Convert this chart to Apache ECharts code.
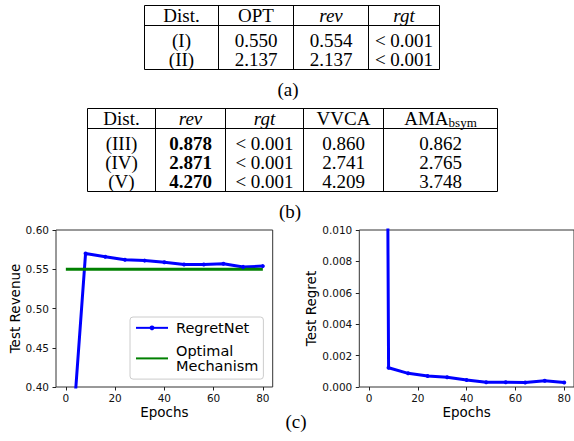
<!DOCTYPE html>
<html>
<head>
<meta charset="utf-8">
<script src="https://cdn.jsdelivr.net/npm/echarts@6/dist/echarts.min.js"></script>
<style>
html,body{margin:0;padding:0;background:#fff;}
#chart{width:574px;height:441px;}
</style>
</head>
<body>
<div id="chart"></div>
<script>
// ---------- Table (a) ----------
var tableAHeader = ['Dist.', 'OPT', 'rev', 'rgt'];
var tableARows = [
  ['(I)', '0.550', '0.554', '< 0.001'],
  ['(II)', '2.137', '2.137', '< 0.001']
];
// ---------- Table (b) ----------
var tableBHeader = ['Dist.', 'rev', 'rgt', 'VVCA', 'AMA|bsym'];
var tableBRows = [
  ['(III)', '0.878', '< 0.001', '0.860', '0.862'],
  ['(IV)', '2.871', '< 0.001', '2.741', '2.765'],
  ['(V)', '4.270', '< 0.001', '4.209', '3.748']
];
var captions = ['(a)', '(b)', '(c)'];

// ---------- Plots (c) ----------
var epochs = [0, 8, 16, 24, 32, 40, 48, 56, 64, 72, 80];
var testRevenue = [0.224, 0.570, 0.566, 0.562, 0.561, 0.559, 0.556, 0.556, 0.557, 0.553, 0.554];
var testRegret = [0.25, 0.00123, 0.00087, 0.00070, 0.00062, 0.00045, 0.00030, 0.00030, 0.00028, 0.00040, 0.00028];
var optimalEpochs = [0, 80];
var optimalRevenue = [0.55, 0.55];
var xTicks = [0, 20, 40, 60, 80];
var revenueTicks = [0.40, 0.45, 0.50, 0.55, 0.60];
var regretTicks = [0.000, 0.002, 0.004, 0.006, 0.008, 0.010];

var SERIF = '"Liberation Serif", "Times New Roman", serif';
var SANS = '"DejaVu Sans", sans-serif';
var TFS = 19; // table font size

var measureCtx = document.createElement('canvas').getContext('2d');
function textWidth(font, s) { measureCtx.font = font; return measureCtx.measureText(s).width; }

var graphics = [];
function line(x1, y1, x2, y2) {
  graphics.push({ type: 'line', silent: true, shape: { x1: x1, y1: y1, x2: x2, y2: y2 },
    style: { stroke: '#000', lineWidth: 1 } });
}
function txt(s, x, y, font, align) {
  graphics.push({ type: 'text', silent: true, style: { text: s, x: x, y: y, font: font, fill: '#000',
    align: align || 'center', verticalAlign: 'middle' } });
}
function cellText(s, x, y, font) {
  if (s.indexOf('|') >= 0) {
    var parts = s.split('|');
    var f1 = TFS + 'px ' + SERIF, f2 = '13px ' + SERIF;
    var w1 = textWidth(f1, parts[0]), w2 = textWidth(f2, parts[1]);
    var x0 = x - (w1 + w2) / 2;
    txt(parts[0], x0, y, f1, 'left');
    txt(parts[1], x0 + w1, y + 4, f2, 'left');
  } else {
    txt(s, x, y, font, 'center');
  }
}
function drawTable(header, rows, cols, yTop, ySep, yBottom, yHead, yRows, italicCols, boldCols) {
  var xl = cols[0], xr = cols[cols.length - 1];
  line(xl, yTop, xr, yTop);
  line(xl, ySep, xr, ySep);
  line(xl, yBottom, xr, yBottom);
  cols.forEach(function (c) { line(c, yTop, c, yBottom); });
  header.forEach(function (h, i) {
    var cx = (cols[i] + cols[i + 1]) / 2;
    var font = (italicCols.indexOf(i) >= 0 ? 'italic ' : '') + TFS + 'px ' + SERIF;
    cellText(h, cx, yHead, font);
  });
  rows.forEach(function (r, j) {
    r.forEach(function (v, i) {
      var cx = (cols[i] + cols[i + 1]) / 2;
      var font = (boldCols.indexOf(i) >= 0 ? 'bold ' : '') + TFS + 'px ' + SERIF;
      cellText(v, cx, yRows[j], font);
    });
  });
}
drawTable(tableAHeader, tableARows, [144.5, 218.5, 293.5, 368.5, 439.5],
  5.5, 25.5, 69.5, 15.5, [40, 59], [2, 3], []);
drawTable(tableBHeader, tableBRows, [87.5, 155.5, 225.5, 303.5, 383.5, 497.5],
  108.5, 128.5, 191.5, 118, [143, 162, 181], [1, 2], [1]);
txt(captions[0], 288, 89, TFS + 'px ' + SERIF);
txt(captions[1], 290, 211, TFS + 'px ' + SERIF);
txt(captions[2], 296, 421, TFS + 'px ' + SERIF);

function xAxisCfg(idx) {
  return {
    type: 'value', gridIndex: idx, min: -4, max: 84,
    name: 'Epochs', nameLocation: 'middle', nameGap: 18,
    nameTextStyle: { fontFamily: SANS, fontSize: 13.5, color: '#000' },
    axisLine: { show: false, onZero: false },
    axisTick: { show: true, length: 3.5, lineStyle: { color: '#222', width: 1 }, customValues: xTicks },
    axisLabel: { customValues: xTicks, margin: 5, fontFamily: SANS, fontSize: 10.5, color: '#111' },
    splitLine: { show: false }
  };
}
function yAxisCfg(idx, ticks, name, gap, digits) {
  return {
    type: 'value', gridIndex: idx, min: ticks[0], max: ticks[ticks.length - 1],
    interval: ticks[1] - ticks[0],
    name: name, nameLocation: 'middle', nameGap: gap,
    nameTextStyle: { fontFamily: SANS, fontSize: 13.5, color: '#000' },
    axisLine: { show: false, onZero: false },
    axisTick: { show: true, length: 3.5, lineStyle: { color: '#222', width: 1 } },
    axisLabel: { margin: 7, fontFamily: SANS, fontSize: 10.5, color: '#111',
      formatter: function (v) { return v.toFixed(digits); } },
    splitLine: { show: false }
  };
}

var chart = echarts.init(document.getElementById('chart'), null, { renderer: 'svg', width: 574, height: 441 });
chart.setOption({
  animation: false,
  backgroundColor: '#fff',
  grid: [
    { left: 56, top: 230, width: 216.7, height: 157, show: true, borderColor: '#333', borderWidth: 1, backgroundColor: 'transparent' },
    { left: 359.3, top: 230, width: 216.7, height: 157, show: true, borderColor: '#333', borderWidth: 1, backgroundColor: 'transparent' }
  ],
  xAxis: [xAxisCfg(0), xAxisCfg(1)],
  yAxis: [
    yAxisCfg(0, revenueTicks, 'Test Revenue', 31, 2),
    yAxisCfg(1, regretTicks, 'Test Regret', 37, 3)
  ],
  legend: {
    orient: 'vertical', left: 130, top: 317,
    padding: [3, 5, 5, 5], itemGap: 7, itemWidth: 32, itemHeight: 6,
    backgroundColor: 'rgba(255,255,255,0.8)', borderColor: '#ccc', borderWidth: 1, borderRadius: 3,
    textStyle: { fontFamily: SANS, fontSize: 14.5, color: '#000', lineHeight: 15.7, padding: [0, 0, 0, 3] },
    formatter: function (n) { return n === 'Optimal Mechanism' ? 'Optimal\nMechanism' : n; },
    data: [{ name: 'RegretNet' }, { name: 'Optimal Mechanism', itemStyle: { opacity: 0 } }]
  },
  graphic: graphics,
  series: [
    {
      type: 'line', name: 'RegretNet', xAxisIndex: 0, yAxisIndex: 0,
      data: epochs.map(function (e, i) { return [e, testRevenue[i]]; }),
      symbol: 'circle', symbolSize: 4, showSymbol: true, clip: true,
      lineStyle: { color: '#0000ff', width: 3 }, itemStyle: { color: '#0000ff' }
    },
    {
      type: 'line', name: 'Optimal Mechanism', xAxisIndex: 0, yAxisIndex: 0,
      data: optimalEpochs.map(function (e, i) { return [e, optimalRevenue[i]]; }),
      symbol: 'none', clip: true,
      lineStyle: { color: '#008000', width: 3 }, itemStyle: { color: '#008000' }
    },
    {
      type: 'line', name: 'RegretNet', xAxisIndex: 1, yAxisIndex: 1,
      data: epochs.map(function (e, i) { return [e, testRegret[i]]; }),
      symbol: 'circle', symbolSize: 4, showSymbol: true, clip: true,
      lineStyle: { color: '#0000ff', width: 3 }, itemStyle: { color: '#0000ff' }
    }
  ]
});
</script>
</body>
</html>
